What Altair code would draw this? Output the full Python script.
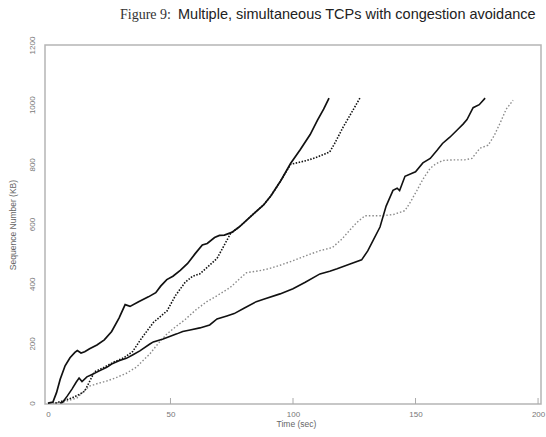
import altair as alt
import pandas as pd

title_fig = "Figure 9:"
title_text = "Multiple, simultaneous TCPs with congestion avoidance"
x_title = "Time (sec)"
y_title = "Sequence Number (KB)"
x_ticks = [0, 50, 100, 150, 200]
y_ticks = [0, 200, 400, 600, 800, 1000, 1200]

# Connection 1 (solid, finishes first)
a_t = [0, 2, 3.5, 5, 7, 9, 11, 12, 13.5, 15, 17, 20, 23, 26, 29, 31.5, 33.5, 37, 41, 44, 46, 48.5,
       51, 54, 57, 60, 63, 65, 68, 70, 72, 75, 78, 81, 84, 88, 91, 95, 99, 103, 107, 110, 112.5, 114.7]
a_v = [0, 3, 35, 80, 125, 152, 170, 176, 168, 172, 182, 195, 212, 240, 285, 330, 324, 340, 356, 370, 392, 414,
       425, 445, 468, 500, 530, 535, 555, 562, 563, 572, 590, 612, 635, 664, 695, 745, 803, 850, 900, 948, 985, 1022]

# Connection 2 (dotted black)
b_t = [3, 6, 10, 13, 15, 19, 22, 27, 31, 34.5, 38, 43, 48.6, 52, 56, 59, 62, 65, 69, 72, 74.5,
       78, 81, 84, 88, 91, 95, 99, 102, 105.7, 110, 113, 115, 117, 120.4, 124, 127.3]
b_v = [0, 7, 18, 30, 40, 105, 116, 138, 152, 172, 215, 270, 309, 360, 405, 425, 433, 455, 485, 530, 568,
       590, 612, 635, 664, 695, 745, 800, 806, 813, 825, 835, 842, 870, 924, 975, 1022]

# Connection 3 (solid, slow)
c_t = [5, 6, 8, 9.8, 11.5, 12.7, 13.9, 15.9, 18, 21, 24, 26, 29, 32, 34.7, 37.5, 41.6, 43, 47, 52.6, 55, 58,
       62, 66, 69, 73, 76, 80, 85, 88, 94.7, 100, 105, 111, 115, 118, 123, 128, 130.5, 132.7, 135.5, 138,
       140.8, 142.5, 143.5, 145.7, 148.6, 150, 153, 156, 158.8, 161, 164, 167, 169.4, 171, 173.5, 176, 178.4]
c_v = [0, 3, 25, 47, 70, 84, 72, 88, 96, 108, 120, 131, 142, 150, 162, 175, 198, 205, 215, 232, 240, 245,
       252, 262, 282, 292, 300, 318, 340, 348, 366, 383, 405, 433, 442, 450, 465, 480, 510, 545, 590, 660,
       713, 720, 712, 760, 770, 775, 805, 820, 847, 870, 891, 915, 935, 950, 990, 1000, 1022]

# Connection 4 (dotted grey)
d_t = [2, 6, 9, 11.8, 14, 17, 20, 24, 28, 32, 36, 41.6, 45, 48.6, 52, 56, 60, 64.8, 68, 71, 74.3, 78, 81,
       86.5, 90, 94.7, 100, 105, 111, 116, 120, 123, 126, 129.4, 133, 136.7, 141, 145.7, 148, 150.6, 153,
       155.9, 158, 161, 165, 170, 173, 176.3, 179.6, 182, 184.5, 187, 189.8]
d_v = [0, 3, 10, 17, 35, 57, 65, 74, 86, 100, 120, 165, 200, 232, 255, 280, 310, 340, 355, 370, 387, 415, 437,
       444, 450, 462, 477, 493, 511, 521, 550, 578, 605, 628, 628, 628, 632, 645, 675, 713, 750,
       786, 800, 813, 815, 815, 820, 854, 864, 895, 938, 985, 1015]

W, H = 496, 359
label_font = "Liberation Sans"


def frame(t, v):
    return pd.DataFrame({"t": t, "v": v, "o": list(range(len(t)))})


x_scale = alt.Scale(domain=[-1.2, 201.2], nice=False, zero=False)
y_scale = alt.Scale(domain=[-3, 1200], nice=False, zero=False)

x_axis = alt.Axis(values=x_ticks, title=x_title, grid=False, domain=False, ticks=False, tickSize=0,
                  format="d", labelPadding=6, labelFontSize=8, labelColor="#777", labelFont=label_font,
                  labelFlush=False, titleFont=label_font, titleFontSize=8.5, titleColor="#666",
                  titleFontWeight="normal", titleX=W / 2 + 3, titleY=19, titleBaseline="middle")
y_axis = alt.Axis(values=y_ticks, title=y_title, grid=False, domain=False, ticks=False, tickSize=0,
                  format="d", labelPadding=9, labelFontSize=8, labelColor="#777", labelFont=label_font,
                  labelAngle=270, labelAlign="center", labelBaseline="bottom", labelFlush=False,
                  titleFont=label_font, titleFontSize=8.5, titleColor="#666", titleFontWeight="normal",
                  titleAngle=270, titleX=-33, titleY=H / 2, titleAlign="center", titleBaseline="middle")

X = alt.X("t:Q", scale=x_scale, axis=x_axis)
Y = alt.Y("v:Q", scale=y_scale, axis=y_axis)


def line(t, v, color, width, dash=None):
    kw = dict(color=color, strokeWidth=width)
    if dash:
        kw["strokeDash"] = dash
    return alt.Chart(frame(t, v)).mark_line(**kw).encode(x=X, y=Y, order="o:Q")


la = line(a_t, a_v, "#111", 1.7)
lb = line(b_t, b_v, "#111", 1.6, [1.5, 1.5])
lc = line(c_t, c_v, "#111", 1.6)
ld = line(d_t, d_v, "#8a8a8a", 1.4, [1.5, 2])

tick_rules = alt.Chart(pd.DataFrame({"t": x_ticks[1:]})).mark_rule(color="#aaa", strokeWidth=1).encode(
    x=alt.X("t:Q", scale=x_scale, axis=x_axis), y=alt.value(H), y2=alt.value(H - 6))

t1 = alt.Chart(pd.DataFrame({"s": [title_fig]})).mark_text(
    font="Liberation Serif", fontSize=14, align="left", baseline="alphabetic", color="#333").encode(
    text="s:N", x=alt.value(75), y=alt.value(-26))
t2 = alt.Chart(pd.DataFrame({"s": [title_text]})).mark_text(
    font=label_font, fontSize=14.5, align="left", baseline="alphabetic", color="#222").encode(
    text="s:N", x=alt.value(133), y=alt.value(-26))

chart = alt.layer(tick_rules, ld, lb, lc, la, t1, t2).properties(
    width=W, height=H, autosize="none",
    padding={"left": 45, "top": 45, "right": 5, "bottom": 33},
).configure_view(stroke="#b5b5b5", strokeWidth=1.5)

chart.save("out.html", embed_options={"renderer": "svg", "actions": False})
